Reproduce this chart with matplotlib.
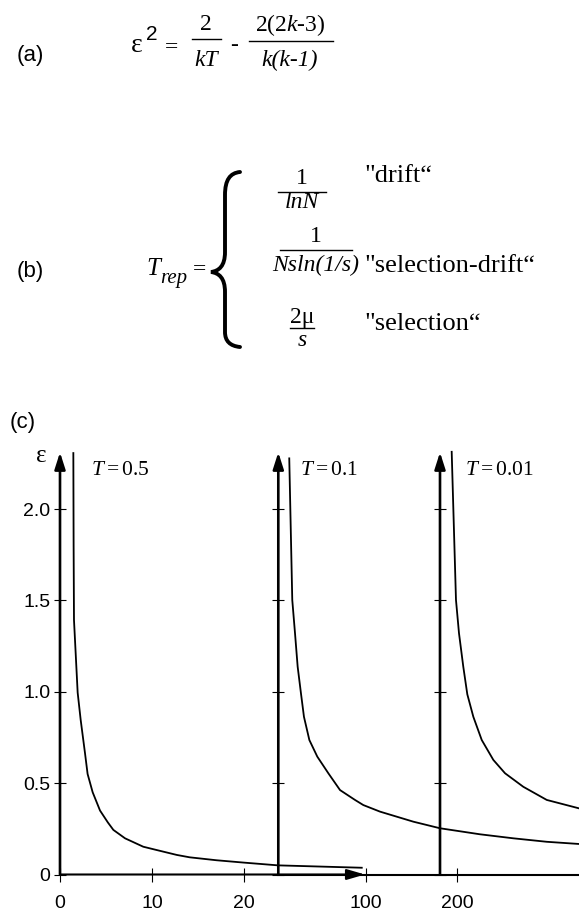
import matplotlib.pyplot as plt
from matplotlib.lines import Line2D
from matplotlib.path import Path
from matplotlib.patches import PathPatch
from matplotlib.transforms import Affine2D

plt.rcParams['mathtext.fontset'] = 'custom'
plt.rcParams['mathtext.rm'] = 'Liberation Serif'
plt.rcParams['mathtext.it'] = 'Liberation Serif:italic'

W, H = 579, 913
SERIF = 'Liberation Serif'
SANS = 'Liberation Sans'

# epsilon against k, one curve per temperature
k_t05 = [1.45, 1.48, 1.52, 1.92, 2.25, 2.72, 3.0, 3.55, 4.35, 5.2, 5.8,
         7.07, 9.05, 10.5, 12.7, 14.1, 17.0, 20.0, 23.7, 32.8]
eps_t05 = [2.306, 1.80, 1.393, 0.995, 0.845, 0.663, 0.55, 0.45, 0.35, 0.285,
           0.244, 0.198, 0.152, 0.134, 0.107, 0.094, 0.078, 0.065, 0.050, 0.037]

k_t01 = [16.0, 19.3, 22.3, 25.2, 28.9, 32.1, 38.0, 46.7, 58.8, 71.6, 88.0,
         97.1, 115.4, 151.9, 181.1, 224.9, 261.4, 298.0, 333.4]
eps_t01 = [2.277, 1.502, 1.320, 1.137, 0.988, 0.863, 0.736, 0.645, 0.554,
           0.462, 0.408, 0.380, 0.344, 0.289, 0.253, 0.220, 0.198, 0.179, 0.167]

k_t001 = [12.8, 17.5, 20.8, 25.5, 29.9, 36.5, 45.7, 58.4, 71.2, 91.2, 116.9, 152.2]
eps_t001 = [2.313, 1.502, 1.320, 1.137, 0.986, 0.863, 0.736, 0.627, 0.554,
            0.480, 0.408, 0.362]

y_ticks = [0, 0.5, 1.0, 1.5, 2.0]
y_ticklabels = ['0', '0.5', '1.0', '1.5', '2.0']
x_ticks_low = [0, 10, 20]
x_ticks_high = [100, 200]
arrow_top = 2.31
k_axis_end = 33.15

fig = plt.figure(figsize=(W / 100, H / 100), dpi=100)
fig.patch.set_facecolor('white')

# pixel -> figure transform for the equation decorations
PX = Affine2D().scale(1 / W, -1 / H).translate(0, 1) + fig.transFigure


def put(x, y, s, size, family=SERIF, style='normal', ha='center', va='center'):
    fig.text(x / W, 1 - y / H, s, fontsize=size, family=family, style=style,
             ha=ha, va=va, color='black')


def bar(x0, x1, y, lw=1.0):
    fig.add_artist(Line2D([x0, x1], [y, y], transform=PX, color='black', lw=lw))


# ---------------- (a) ----------------
put(30, 56, '(a)', 16, family=SANS)
put(137, 45, '\u03b5', 20)
put(152, 35, '2', 15, family=SANS)
put(172, 48, '=', 17)
put(206, 25, '2', 17)
bar(192, 221, 39)
put(206, 60, 'kT', 17, style='italic')
put(234, 46, '-', 17)
put(290, 25, '2(2$k$-3)', 17)
bar(249, 333, 40.7)
put(290, 60, 'k(k-1)', 17, style='italic')

# ---------------- (b) ----------------
put(30, 271, '(b)', 16, family=SANS)
put(153, 269, 'T', 18, style='italic')
put(174, 279, 'rep', 15, style='italic')
put(199, 270, '=', 17)

brace = Path([(240, 172), (230, 173), (225, 180), (225, 195),
              (225, 252),
              (225, 266), (219, 271), (211, 272),
              (219, 273), (225, 278), (225, 292),
              (225, 332),
              (225, 341), (230, 346), (240, 347)],
             [Path.MOVETO, Path.CURVE4, Path.CURVE4, Path.CURVE4,
              Path.LINETO,
              Path.CURVE4, Path.CURVE4, Path.CURVE4,
              Path.CURVE4, Path.CURVE4, Path.CURVE4,
              Path.LINETO,
              Path.CURVE4, Path.CURVE4, Path.CURVE4])
fig.add_artist(PathPatch(brace, transform=PX, fill=False, lw=2.8,
                         edgecolor='black', capstyle='round'))

put(302, 178, '1', 17)
bar(278, 326, 191.7)
put(302, 203, 'lnN', 17, style='italic')
put(316, 237, '1', 17)
bar(280, 352, 250)
put(316, 265, 'Nsln(1/s)', 17, style='italic')
put(302, 317, '2\u03bc', 17)
bar(290, 314, 328)
put(302, 341, 's', 17, style='italic')

put(364, 176, '"drift\u201c', 19, ha='left')
put(364, 266, '"selection-drift\u201c', 19, ha='left')
put(364, 324, '"selection\u201c', 19, ha='left')

# ---------------- (c) ----------------
put(23, 422, '(c)', 16, family=SANS)
put(41, 456, '\u03b5', 18)

Y0, YPX = 874.5, 182.75
YMAX = 2.4


def panel(left_px, right_px, xlim):
    top_px = Y0 - YMAX * YPX
    ax = fig.add_axes([left_px / W, 1 - Y0 / H, (right_px - left_px) / W,
                       (Y0 - top_px) / H])
    ax.set_xlim(xlim)
    ax.set_ylim(0, YMAX)
    ax.patch.set_alpha(0)
    for side in ('top', 'right', 'left', 'bottom'):
        ax.spines[side].set_visible(False)
    ax.set_yticks(y_ticks)
    ax.tick_params(axis='y', direction='inout', length=8, width=0.8,
                   labelleft=False)
    # vertical axis drawn as an arrow
    ax.annotate('', xy=(xlim[0], arrow_top), xytext=(xlim[0], 0),
                arrowprops=dict(arrowstyle='-|>,head_length=0.5,head_width=0.16',
                                mutation_scale=20, lw=1.9, color='black',
                                shrinkA=0, shrinkB=0),
                annotation_clip=False)
    return ax


CURVE = dict(color='black', lw=1.3, solid_joinstyle='round')

ax1 = panel(60, 60 + 33.5 * 9.2, (0, 33.5))
ax1.tick_params(axis='y', labelleft=True, labelsize=14, pad=3)
ax1.set_yticklabels(y_ticklabels, family=SANS)
ax1.set_xticks(x_ticks_low)
ax1.set_xticklabels([str(v) for v in x_ticks_low], family=SANS)
ax1.tick_params(axis='x', direction='inout', length=10, width=0.8,
                labelsize=14, pad=10)
ax1.annotate('', xy=(k_axis_end, 0), xytext=(0, 0),
             arrowprops=dict(arrowstyle='-|>,head_length=0.55,head_width=0.16',
                             mutation_scale=20, lw=1.5, color='black',
                             shrinkA=0, shrinkB=0),
             annotation_clip=False)
ax1.plot(k_t05, eps_t05, **CURVE)
ax1.text(3.4, 2.22, '$T = 0.5$', fontsize=15.5, va='center')

ax2 = panel(278.3, W, (4, 333.3))
ax2.spines['bottom'].set_visible(True)
ax2.spines['bottom'].set_linewidth(1.5)
ax2.set_xticks(x_ticks_high)
ax2.set_xticklabels([str(v) for v in x_ticks_high], family=SANS)
ax2.tick_params(axis='x', direction='inout', length=10, width=0.8,
                labelsize=14, pad=10)
ax2.plot(k_t01, eps_t01, **CURVE)
ax2.text(28, 2.22, '$T = 0.1$', fontsize=15.5, va='center')

ax3 = panel(440, W, (0, 152.2))
ax3.set_xticks([])
ax3.plot(k_t001, eps_t001, **CURVE)
ax3.text(27, 2.22, '$T = 0.01$', fontsize=15.5, va='center')

fig.savefig('out.png', dpi=100, facecolor='white')
